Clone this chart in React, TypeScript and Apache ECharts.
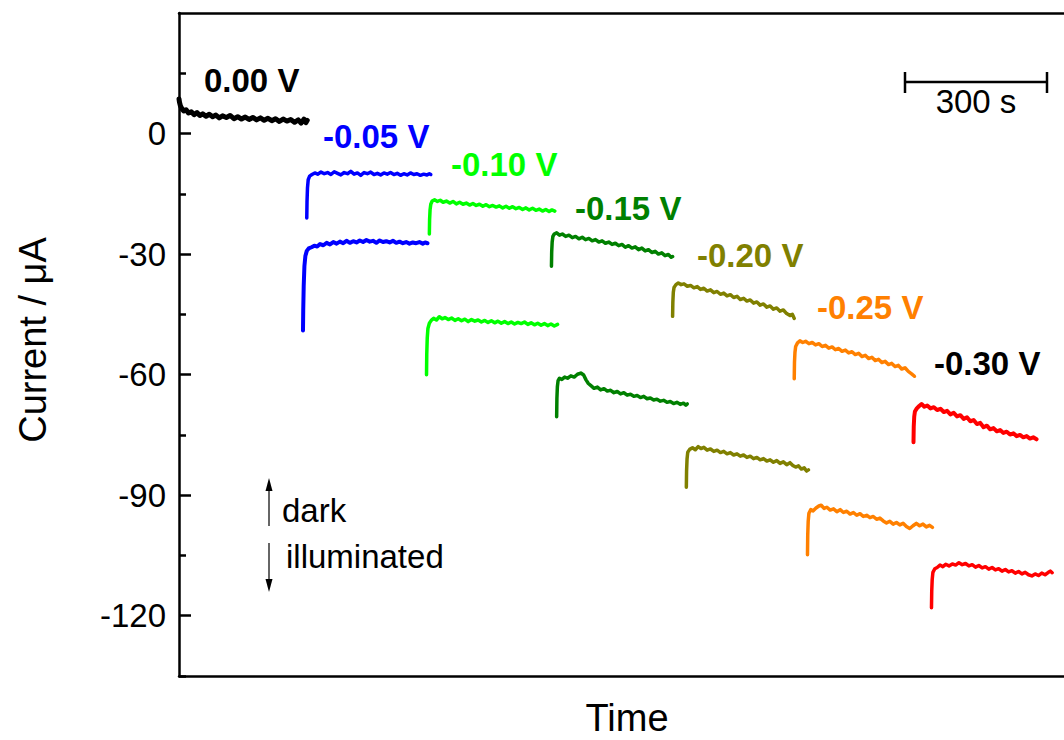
import React, { useEffect, useRef } from "react";
import * as echarts from "echarts";

// time in s, current in µA
const trace000: number[][] = [[0,8.6],[1,7.8],[3,6.9],[6,6.2],[10,5.6],[15,5.9],[20,5.1],[26,5.4],[32,4.7],[38,5.2],[44,4.5],[50,4.9],[57,4.3],[64,4.8],[71,4.2],[78,4.6],[85,3.9],[92,4.4],[100,4.0],[108,4.5],[116,3.7],[124,4.2],[132,3.6],[140,4.1],[148,3.5],[156,4.0],[164,3.4],[172,3.9],[180,3.3],[188,3.8],[196,3.2],[204,3.7],[212,3.0],[220,3.6],[228,3.1],[236,3.5],[244,2.8],[252,3.4],[258,2.6],[264,3.6],[268,2.7],[271,3.3]];

const dark005: number[][] = [[270,-21],[270.5,-17],[271.5,-13.5],[273,-11.5],[276,-10.6],[281,-10.2],[287,-9.8],[293,-10.1],[300,-9.6],[307,-10.0],[314,-9.7],[321,-10.2],[328,-9.5],[335,-9.9],[342,-10.3],[349,-9.7],[356,-10.0],[363,-9.4],[370,-10.1],[377,-9.8],[384,-10.4],[391,-9.7],[398,-10.0],[405,-9.6],[412,-10.2],[419,-9.9],[426,-10.3],[433,-9.8],[440,-10.1],[447,-9.7],[454,-10.2],[461,-9.9],[468,-10.4],[475,-10.0],[482,-10.3],[489,-9.8],[496,-10.2],[503,-10.0],[510,-10.4],[517,-10.1],[524,-10.3],[529,-10.0],[532,-10.2]];
const light005: number[][] = [[262,-49],[262.5,-44],[263.5,-38],[265,-33],[267,-30.5],[270,-29.2],[274,-28.6],[280,-28.3],[286,-27.9],[292,-28.1],[298,-27.5],[305,-27.8],[312,-27.2],[319,-27.6],[326,-27.0],[333,-27.4],[340,-26.9],[347,-27.3],[354,-26.7],[361,-27.2],[368,-26.8],[375,-27.1],[382,-26.6],[389,-27.0],[396,-26.5],[403,-26.9],[410,-26.7],[417,-27.2],[424,-26.6],[431,-27.0],[438,-26.8],[445,-27.1],[452,-26.7],[459,-27.2],[466,-26.9],[473,-27.3],[480,-27.0],[487,-27.4],[494,-27.1],[501,-27.3],[508,-27.0],[515,-27.4],[520,-27.1],[525,-27.3]];

const dark010: number[][] = [[529,-25],[529.5,-21.5],[530.5,-19],[532,-17.6],[535,-16.8],[540,-16.5],[546,-16.9],[552,-16.6],[558,-17.1],[565,-16.8],[572,-17.3],[579,-16.9],[586,-17.5],[593,-17.1],[600,-17.6],[607,-17.3],[614,-17.8],[621,-17.4],[628,-17.9],[635,-17.6],[642,-18.1],[649,-17.7],[656,-18.2],[663,-17.9],[670,-18.3],[677,-18.0],[684,-18.5],[691,-18.1],[698,-18.6],[705,-18.2],[712,-18.7],[719,-18.4],[726,-18.9],[733,-18.5],[740,-19.0],[747,-18.6],[754,-19.1],[761,-18.8],[768,-19.3],[775,-18.9],[782,-19.4],[788,-19.0],[794,-19.3]];
const light010: number[][] = [[523,-60],[523.5,-55],[524.5,-51],[526,-48.5],[529,-47.2],[533,-46.5],[538,-46.0],[544,-46.4],[550,-45.6],[556,-46.1],[562,-45.8],[569,-46.3],[576,-45.9],[583,-46.5],[590,-46.1],[597,-46.6],[604,-46.2],[611,-46.8],[618,-46.3],[625,-46.7],[632,-46.4],[639,-46.9],[646,-46.5],[653,-47.0],[660,-46.6],[667,-47.1],[674,-46.7],[681,-47.2],[688,-46.8],[695,-47.3],[702,-46.9],[709,-47.4],[716,-47.0],[723,-47.3],[730,-46.9],[737,-47.5],[744,-47.1],[751,-47.6],[758,-47.2],[765,-47.7],[772,-47.3],[779,-47.8],[786,-47.4],[793,-47.9],[800,-47.5]];

const dark015: number[][] = [[787,-33],[787.5,-29.5],[788.5,-27],[790,-25.6],[793,-25.0],[798,-24.7],[804,-25.3],[810,-25.0],[817,-25.6],[824,-25.3],[831,-25.9],[838,-25.6],[845,-26.2],[852,-25.8],[859,-26.4],[866,-26.1],[873,-26.7],[880,-26.4],[887,-27.0],[894,-26.7],[901,-27.3],[908,-27.0],[915,-27.6],[922,-27.3],[929,-27.9],[936,-27.6],[943,-28.3],[950,-27.9],[957,-28.5],[964,-28.2],[971,-28.9],[978,-28.5],[985,-29.2],[992,-28.9],[999,-29.6],[1006,-29.3],[1013,-30.0],[1020,-29.7],[1027,-30.4],[1034,-30.1],[1040,-30.8],[1043,-30.6]];
const light015: number[][] = [[798,-70.5],[798.5,-66],[799.5,-63],[801,-61.5],[804,-60.9],[809,-61.2],[815,-60.6],[821,-60.9],[828,-60.3],[835,-60.6],[842,-59.9],[849,-59.6],[855,-60.1],[860,-61.3],[865,-62.2],[871,-62.8],[877,-63.4],[884,-63.1],[891,-63.8],[898,-63.5],[905,-64.1],[912,-63.9],[919,-64.5],[926,-64.2],[933,-64.8],[940,-64.5],[947,-65.1],[954,-64.9],[961,-65.4],[968,-65.2],[975,-65.7],[982,-65.4],[989,-66.0],[996,-65.8],[1003,-66.3],[1010,-66.1],[1017,-66.6],[1024,-66.4],[1031,-66.9],[1038,-66.7],[1045,-67.2],[1052,-66.9],[1059,-67.4],[1066,-67.1],[1071,-67.6],[1074,-67.3]];

const dark020: number[][] = [[1043,-45.5],[1043.5,-42],[1044.5,-39.5],[1046,-38.3],[1050,-37.6],[1055,-37.2],[1061,-37.6],[1067,-37.4],[1074,-38.0],[1081,-37.8],[1088,-38.4],[1095,-38.1],[1102,-38.8],[1109,-38.5],[1116,-39.2],[1123,-38.9],[1130,-39.6],[1137,-39.3],[1144,-40.0],[1151,-39.7],[1158,-40.4],[1165,-40.1],[1172,-40.8],[1179,-40.5],[1186,-41.3],[1193,-41.0],[1200,-41.7],[1207,-41.4],[1214,-42.2],[1221,-41.9],[1228,-42.7],[1235,-42.4],[1242,-43.2],[1249,-42.9],[1256,-43.7],[1263,-43.4],[1270,-44.2],[1277,-43.9],[1284,-44.8],[1291,-45.3],[1296,-45.0],[1300,-46.0]];
const light020: number[][] = [[1072,-88],[1072.5,-84],[1073.5,-81],[1075,-79.3],[1079,-78.6],[1085,-78.2],[1091,-78.7],[1097,-77.9],[1103,-78.4],[1109,-78.1],[1116,-78.8],[1123,-78.5],[1130,-79.1],[1137,-78.8],[1144,-79.4],[1151,-79.1],[1158,-79.7],[1165,-79.4],[1172,-80.0],[1179,-79.7],[1186,-80.3],[1193,-80.0],[1200,-80.6],[1207,-80.3],[1214,-80.9],[1221,-80.6],[1228,-81.2],[1235,-80.9],[1242,-81.5],[1249,-81.2],[1256,-81.8],[1263,-81.4],[1270,-82.1],[1277,-81.7],[1284,-82.4],[1291,-81.9],[1297,-82.6],[1303,-83.0],[1309,-82.7],[1315,-83.5],[1321,-83.2],[1326,-84.0],[1330,-83.7]];

const dark025: number[][] = [[1300,-61],[1300.5,-57],[1301.5,-54.5],[1303,-53],[1307,-52.1],[1312,-51.6],[1318,-52.0],[1324,-51.7],[1331,-52.3],[1338,-52.0],[1345,-52.6],[1352,-52.3],[1359,-53.0],[1366,-52.7],[1373,-53.4],[1380,-53.1],[1387,-53.8],[1394,-53.5],[1401,-54.2],[1408,-53.9],[1415,-54.6],[1422,-54.3],[1429,-55.0],[1436,-54.7],[1443,-55.5],[1450,-55.2],[1457,-56.0],[1464,-55.7],[1471,-56.5],[1478,-56.2],[1485,-57.0],[1492,-56.7],[1499,-57.5],[1506,-57.2],[1513,-58.0],[1520,-57.7],[1527,-58.6],[1534,-58.3],[1541,-59.2],[1548,-59.8],[1554,-60.4]];
const light025: number[][] = [[1328,-104.8],[1328.5,-100],[1329.5,-96.5],[1331,-94.5],[1335,-93.6],[1340,-93.9],[1346,-93.2],[1352,-92.7],[1357,-92.5],[1363,-93.3],[1369,-93.0],[1376,-93.7],[1383,-93.4],[1390,-94.1],[1397,-93.6],[1404,-94.3],[1411,-94.0],[1418,-94.7],[1425,-94.3],[1432,-95.0],[1439,-94.6],[1446,-95.3],[1453,-95.0],[1460,-95.6],[1467,-95.3],[1474,-96.0],[1481,-95.7],[1488,-96.4],[1495,-96.9],[1502,-96.5],[1509,-97.2],[1516,-96.8],[1523,-97.4],[1530,-97.0],[1537,-97.8],[1544,-98.3],[1551,-97.6],[1558,-97.0],[1565,-97.6],[1572,-97.2],[1579,-97.9],[1586,-97.5],[1592,-98.0]];

const dark030: number[][] = [[1552,-76.8],[1552.5,-73],[1553.5,-70.5],[1555,-69.2],[1559,-68.4],[1564,-67.8],[1569,-67.3],[1575,-68.0],[1581,-67.7],[1588,-68.4],[1595,-68.1],[1602,-68.8],[1609,-68.5],[1616,-69.3],[1623,-69.0],[1630,-69.9],[1637,-69.5],[1644,-70.4],[1651,-70.1],[1658,-71.0],[1665,-70.6],[1672,-71.6],[1679,-71.3],[1686,-72.3],[1693,-72.0],[1700,-73.1],[1707,-72.7],[1714,-73.6],[1721,-73.3],[1728,-74.1],[1735,-73.8],[1742,-74.5],[1749,-74.2],[1756,-74.9],[1763,-74.6],[1770,-75.3],[1777,-75.0],[1784,-75.6],[1791,-75.3],[1798,-75.9],[1805,-75.6],[1812,-76.1]];
const light030: number[][] = [[1590,-118],[1590.5,-114],[1591.5,-111],[1593,-109.2],[1597,-108.3],[1602,-108.0],[1608,-107.4],[1614,-107.8],[1620,-107.2],[1627,-107.6],[1634,-107.1],[1641,-107.4],[1648,-106.8],[1655,-107.3],[1662,-107.0],[1669,-107.6],[1676,-107.3],[1683,-107.9],[1690,-107.5],[1697,-108.1],[1704,-107.8],[1711,-108.4],[1718,-108.0],[1725,-108.6],[1732,-108.3],[1739,-108.9],[1746,-108.5],[1753,-109.1],[1760,-108.8],[1767,-109.4],[1774,-109.0],[1781,-109.6],[1788,-109.2],[1795,-109.8],[1802,-110.1],[1809,-109.6],[1816,-110.0],[1823,-109.4],[1830,-109.8],[1837,-109.2],[1841,-108.9],[1845,-109.3]];

const potentials = ["0.00 V", "-0.05 V", "-0.10 V", "-0.15 V", "-0.20 V", "-0.25 V", "-0.30 V"];
const colors = ["#000000", "#0000ff", "#00ff00", "#008000", "#808000", "#ff8000", "#ff0000"];
const labelColors = ["#000000", "#0000ff", "#00ff00", "#008000", "#808000", "#ff8000", "#000000"];
const traces: { name: string; color: string; width: number; data: number[][] }[] = [
  { name: "0.00 V", color: colors[0], width: 5, data: trace000 },
  { name: "-0.05 V dark", color: colors[1], width: 3.5, data: dark005 },
  { name: "-0.05 V light", color: colors[1], width: 4, data: light005 },
  { name: "-0.10 V dark", color: colors[2], width: 3.5, data: dark010 },
  { name: "-0.10 V light", color: colors[2], width: 3.5, data: light010 },
  { name: "-0.15 V dark", color: colors[3], width: 3.5, data: dark015 },
  { name: "-0.15 V light", color: colors[3], width: 3.5, data: light015 },
  { name: "-0.20 V dark", color: colors[4], width: 3.5, data: dark020 },
  { name: "-0.20 V light", color: colors[4], width: 3.5, data: light020 },
  { name: "-0.25 V dark", color: colors[5], width: 3.5, data: dark025 },
  { name: "-0.25 V light", color: colors[5], width: 3.5, data: light025 },
  { name: "-0.30 V dark", color: colors[6], width: 4, data: dark030 },
  { name: "-0.30 V light", color: colors[6], width: 3.5, data: light030 },
];
const majorTicks = [-120, -90, -60, -30, 0];
const minorTicks = [-135, -105, -75, -45, -15, 15];

const FONT = "'Liberation Sans', Arial, sans-serif";

export default function App() {
  const ref = useRef<HTMLDivElement>(null);
  useEffect(() => {
    if (!ref.current) return;
    const chart = echarts.init(ref.current, null, { renderer: "svg" });
    const labelPos = [
      [204, 80], [323, 136], [451, 164], [575, 208], [697, 255], [817, 307], [934, 363],
    ];
    const graphic: any[] = potentials.map((p, i) => ({
      type: "text",
      x: labelPos[i][0],
      y: labelPos[i][1],
      style: {
        text: p, fill: labelColors[i], font: `bold 33px ${FONT}`,
        align: "left", verticalAlign: "middle",
      },
    }));
    graphic.push(
      { type: "line", shape: { x1: 905, y1: 82, x2: 1047, y2: 82 }, style: { stroke: "#000", lineWidth: 2.5 } },
      { type: "line", shape: { x1: 905, y1: 72, x2: 905, y2: 93 }, style: { stroke: "#000", lineWidth: 2.5 } },
      { type: "line", shape: { x1: 1047, y1: 72, x2: 1047, y2: 93 }, style: { stroke: "#000", lineWidth: 2.5 } },
      { type: "text", x: 976, y: 101, style: { text: "300 s", fill: "#000", font: `33px ${FONT}`, align: "center", verticalAlign: "middle" } },
      { type: "line", shape: { x1: 269, y1: 526, x2: 269, y2: 488 }, style: { stroke: "#333", lineWidth: 1.5 } },
      { type: "polygon", shape: { points: [[269, 478], [265.5, 491], [272.5, 491]] }, style: { fill: "#000" } },
      { type: "line", shape: { x1: 269, y1: 543, x2: 269, y2: 581 }, style: { stroke: "#333", lineWidth: 1.5 } },
      { type: "polygon", shape: { points: [[269, 592], [265.5, 579], [272.5, 579]] }, style: { fill: "#000" } },
      { type: "text", x: 282, y: 510, style: { text: "dark", fill: "#000", font: `33px ${FONT}`, align: "left", verticalAlign: "middle" } },
      { type: "text", x: 286, y: 556, style: { text: "illuminated", fill: "#000", font: `33px ${FONT}`, align: "left", verticalAlign: "middle" } },
      { type: "text", x: 627, y: 718, style: { text: "Time", fill: "#000", font: `38px ${FONT}`, align: "center", verticalAlign: "middle" } },
      { type: "text", x: 33, y: 340, rotation: Math.PI / 2, style: { text: "Current / μA", fill: "#000", font: `38px ${FONT}`, align: "center", verticalAlign: "middle" } },
    );
    const axisCommon = {
      type: "value" as const,
      splitLine: { show: false },
    };
    chart.setOption({
      animation: false,
      backgroundColor: "#ffffff",
      grid: { left: 179, right: 0, top: 13, bottom: 64, containLabel: false },
      xAxis: [
        { ...axisCommon, position: "bottom", min: 0, max: 1870,
          axisLine: { show: true, onZero: false, lineStyle: { color: "#000", width: 2.5 } },
          axisTick: { show: false }, axisLabel: { show: false } },
        { ...axisCommon, position: "top", min: 0, max: 1870,
          axisLine: { show: true, onZero: false, lineStyle: { color: "#000", width: 2.5 } },
          axisTick: { show: false }, axisLabel: { show: false } },
      ],
      yAxis: [
        { ...axisCommon, position: "left", min: -135, max: 30, interval: 15,
          axisLine: { show: true, onZero: false, lineStyle: { color: "#000", width: 2.5 } },
          axisTick: { show: true, inside: true, length: 12, customValues: majorTicks, lineStyle: { color: "#000", width: 2.5 } },
          axisLabel: { show: true, customValues: majorTicks, margin: 13, color: "#000", fontSize: 33, fontFamily: FONT,
            formatter: (v: number) => (v % 30 === 0 ? String(v) : "") } },
        { ...axisCommon, position: "left", offset: 0, min: -135, max: 30, interval: 15,
          axisLine: { show: false },
          axisTick: { show: true, inside: true, length: 7, customValues: minorTicks, lineStyle: { color: "#000", width: 2.5 } },
          axisLabel: { show: false } },
      ],
      series: traces.map((t) => ({
        name: t.name,
        type: "line",
        xAxisIndex: 0,
        yAxisIndex: 0,
        data: t.data,
        showSymbol: false,
        lineStyle: { color: t.color, width: t.width, join: "round", cap: "round" },
        itemStyle: { color: t.color },
        z: 3,
      })),
      graphic,
    });
    return () => chart.dispose();
  }, []);
  return (
    <div
      ref={ref}
      style={{ position: "fixed", left: 0, top: 0, width: 1064, height: 740, background: "#fff" }}
    />
  );
}
